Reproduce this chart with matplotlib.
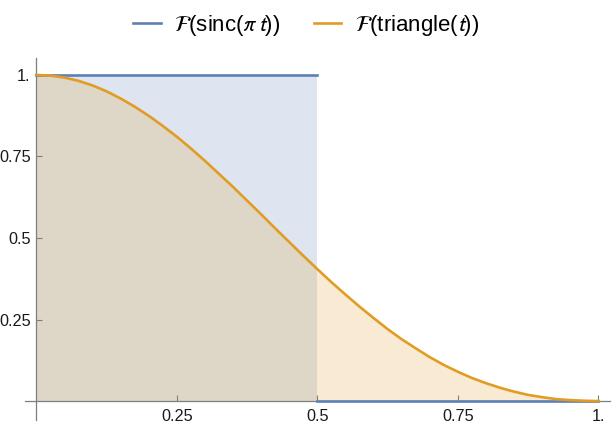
import matplotlib
matplotlib.use("Agg")
import matplotlib.pyplot as plt

plt.rcParams['font.family'] = ['Liberation Sans', 'DejaVu Sans']
plt.rcParams['mathtext.fontset'] = 'stixsans'

# Fourier transform of sinc(pi t): a box
rect_segments = [([0.0, 0.5], [1.0, 1.0]),
                 ([0.5, 1.0], [0.0, 0.0])]

# Fourier transform of triangle(t), sampled off the curve
freq = [0.0, 0.025, 0.05, 0.075, 0.1, 0.125, 0.15, 0.175, 0.2, 0.225,
        0.25, 0.275, 0.3, 0.325, 0.35, 0.375, 0.4, 0.425, 0.45, 0.475,
        0.5, 0.525, 0.55, 0.575, 0.6, 0.625, 0.65, 0.675, 0.7, 0.725,
        0.75, 0.775, 0.8, 0.825, 0.85, 0.875, 0.9, 0.925, 0.95, 0.975, 1.0]
tri_ft = [1.0, 0.998, 0.992, 0.982, 0.968, 0.950, 0.928, 0.903, 0.875, 0.844,
          0.811, 0.775, 0.737, 0.697, 0.657, 0.615, 0.573, 0.530, 0.488, 0.446,
          0.405, 0.365, 0.327, 0.290, 0.255, 0.221, 0.190, 0.162, 0.135, 0.111,
          0.090, 0.071, 0.055, 0.041, 0.029, 0.019, 0.012, 0.006, 0.003, 0.001, 0.0]

x_ticks = [0.25, 0.5, 0.75, 1.0]
x_labels = ['0.25', '0.5', '0.75', '1.']
y_ticks = [0.25, 0.5, 0.75, 1.0]
y_labels = ['0.25', '0.5', '0.75', '1.']

blue = '#5E81B5'
orange = '#E19C24'

fig = plt.figure(figsize=(6.12, 4.28), dpi=100)
ax = fig.add_axes([0.0408, 0.0187, 0.956, 0.8458])

# fills first
for xs, ys in rect_segments:
    ax.fill_between(xs, 0, ys, color=blue, alpha=0.2, linewidth=0)
ax.fill_between(freq, 0, tri_ft, color=orange, alpha=0.2, linewidth=0)

# lines
for i, (xs, ys) in enumerate(rect_segments):
    ax.plot(xs, ys, color=blue, linewidth=1.9, zorder=3,
            label=r'$\mathcal{F}$(sinc($\pi\,t$))' if i == 0 else None)
ax.plot(freq, tri_ft, color=orange, linewidth=1.9, zorder=4,
        label=r'$\mathcal{F}$(triangle($t$))')

ax.set_xlim(-0.02, 1.021)
ax.set_ylim(-0.058, 1.052)

# Mathematica style axes through the origin
ax.spines['left'].set_position(('data', 0))
ax.spines['bottom'].set_position(('data', 0))
ax.spines['right'].set_visible(False)
ax.spines['top'].set_visible(False)
for s in ('left', 'bottom'):
    ax.spines[s].set_color('#7f7f7f')
    ax.spines[s].set_linewidth(0.9)

ax.set_xticks(x_ticks)
ax.set_xticklabels(x_labels)
ax.set_yticks(y_ticks)
ax.set_yticklabels(y_labels)
ax.tick_params(direction='in', length=4.5, width=0.8, color='#7f7f7f',
               labelsize=11.7, labelcolor='#1a1a1a')
ax.tick_params(axis='x', pad=5.5)
ax.tick_params(axis='y', pad=4)
ax.patch.set_visible(False)

fig.legend(loc='center', bbox_to_anchor=(0.5, 1 - 25 / 428), ncol=2,
           frameon=False, fontsize=16, handlelength=1.25,
           columnspacing=1.5, handletextpad=0.6)

plt.savefig('out.png', dpi=100)
